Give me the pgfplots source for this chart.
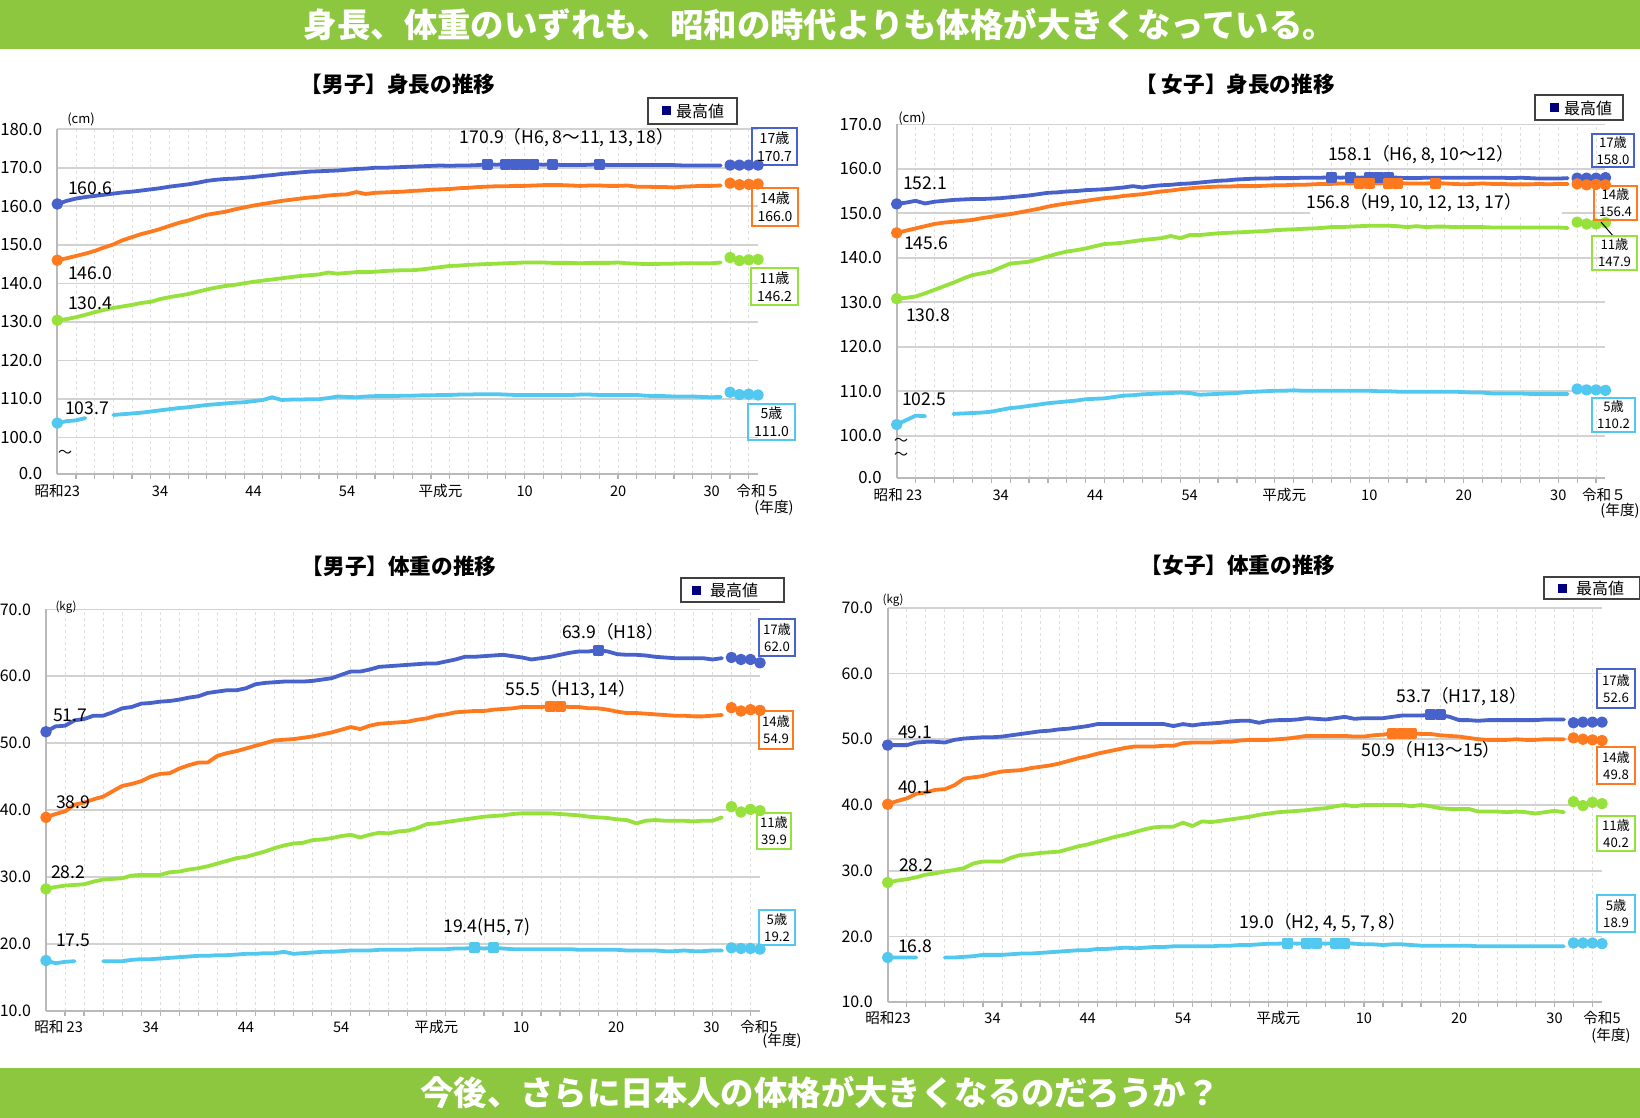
\documentclass[border=0pt]{standalone}
\usepackage{fontspec}
\setmainfont{Noto Sans CJK JP}
\usepackage{pgfplots}
\usepackage{pgfplotstable}
\pgfplotsset{compat=1.18}

\definecolor{c17}{RGB}{72,98,204}
\definecolor{c14}{RGB}{255,122,30}
\definecolor{c11}{RGB}{150,225,60}
\definecolor{c5}{RGB}{80,200,240}
\definecolor{banner}{RGB}{141,198,63}
\definecolor{navy}{RGB}{0,0,128}

\newcommand{\fsz}[1]{\fontsize{#1}{#1}\selectfont}

% male height (cm)
\pgfplotstableread{
yr a17 a14 a11 a5
1948 160.6 146.0 130.4 103.7
1949 161.4 146.5 130.7 104.2
1950 162.0 147.1 131.2 104.4
1951 162.4 147.7 131.8 105.0
1952 162.7 148.4 132.5 nan
1953 163.0 149.3 133.1 nan
1954 163.3 150.1 133.6 105.8
1955 163.6 151.2 134.0 106.0
1956 163.8 152.0 134.4 106.2
1957 164.1 152.8 134.9 106.4
1958 164.4 153.4 135.2 106.7
1959 164.7 154.1 135.9 107.0
1960 165.1 154.9 136.4 107.3
1961 165.4 155.7 136.8 107.6
1962 165.7 156.3 137.2 107.8
1963 166.1 157.1 137.8 108.1
1964 166.6 157.8 138.4 108.4
1965 166.9 158.2 138.9 108.6
1966 167.1 158.6 139.3 108.8
1967 167.2 159.2 139.6 109.0
1968 167.4 159.7 140.0 109.1
1969 167.6 160.2 140.4 109.4
1970 167.9 160.6 140.7 109.7
1971 168.1 161.0 141.0 110.4
1972 168.4 161.4 141.3 109.7
1973 168.6 161.7 141.6 109.8
1974 168.8 162.0 141.9 109.8
1975 169.0 162.3 142.1 109.9
1976 169.1 162.5 142.3 109.9
1977 169.2 162.8 142.8 110.2
1978 169.3 163.0 142.5 110.6
1979 169.5 163.1 142.7 110.5
1980 169.7 163.7 142.9 110.4
1981 169.8 163.2 142.9 110.6
1982 170.0 163.5 143.0 110.7
1983 170.0 163.6 143.2 110.7
1984 170.1 163.7 143.3 110.7
1985 170.2 163.8 143.4 110.8
1986 170.3 164.0 143.4 110.8
1987 170.4 164.1 143.6 110.9
1988 170.5 164.3 143.9 110.9
1989 170.6 164.4 144.2 111.0
1990 170.5 164.5 144.5 111.0
1991 170.6 164.7 144.6 111.1
1992 170.6 164.8 144.8 111.1
1993 170.7 165.0 144.9 111.2
1994 170.9 165.1 145.0 111.2
1995 170.8 165.2 145.1 111.2
1996 170.9 165.2 145.2 111.1
1997 170.9 165.3 145.3 111.0
1998 170.9 165.3 145.4 111.0
1999 170.9 165.4 145.4 111.0
2000 170.8 165.5 145.4 111.0
2001 170.9 165.5 145.3 111.0
2002 170.7 165.5 145.3 111.0
2003 170.7 165.4 145.3 111.0
2004 170.7 165.3 145.2 111.1
2005 170.8 165.4 145.3 111.1
2006 170.9 165.4 145.3 111.0
2007 170.7 165.3 145.3 111.0
2008 170.7 165.3 145.4 111.0
2009 170.7 165.4 145.2 111.0
2010 170.7 165.1 145.1 111.0
2011 170.7 165.1 145.0 110.8
2012 170.7 165.0 145.0 110.7
2013 170.7 165.0 145.1 110.7
2014 170.7 164.9 145.1 110.6
2015 170.6 165.1 145.2 110.6
2016 170.6 165.2 145.2 110.6
2017 170.6 165.3 145.2 110.5
2018 170.6 165.3 145.2 110.4
2019 170.6 165.4 145.4 110.5
}\mheight

% female height (cm)
\pgfplotstableread{
yr a17 a14 a11 a5
1948 152.1 145.6 130.8 102.5
1949 152.4 146.1 131.0 103.5
1950 152.8 146.6 131.3 104.5
1951 152.2 147.1 132.0 104.4
1952 152.6 147.6 132.8 nan
1953 152.8 147.9 133.6 nan
1954 153.0 148.1 134.4 104.9
1955 153.1 148.3 135.3 105.0
1956 153.2 148.5 136.1 105.1
1957 153.2 148.9 136.5 105.2
1958 153.3 149.2 136.9 105.4
1959 153.4 149.5 137.8 105.8
1960 153.6 149.8 138.7 106.2
1961 153.8 150.2 138.9 106.4
1962 154.0 150.6 139.1 106.7
1963 154.3 151.0 139.7 107.0
1964 154.6 151.5 140.3 107.3
1965 154.7 151.9 140.9 107.5
1966 154.9 152.2 141.4 107.7
1967 155.0 152.5 141.7 107.9
1968 155.2 152.8 142.1 108.2
1969 155.3 153.1 142.6 108.3
1970 155.4 153.4 143.1 108.4
1971 155.6 153.6 143.2 108.7
1972 155.8 153.9 143.4 109.0
1973 156.1 154.1 143.7 109.1
1974 155.8 154.3 144.0 109.3
1975 156.1 154.6 144.2 109.4
1976 156.3 154.9 144.4 109.5
1977 156.4 155.1 144.9 109.6
1978 156.6 155.4 144.4 109.7
1979 156.7 155.6 145.1 109.6
1980 156.9 155.8 145.1 109.2
1981 157.1 155.9 145.3 109.3
1982 157.3 156.0 145.5 109.4
1983 157.4 156.0 145.6 109.5
1984 157.6 156.1 145.7 109.6
1985 157.7 156.1 145.8 109.8
1986 157.8 156.1 145.9 109.9
1987 157.8 156.2 146.0 110.0
1988 157.9 156.3 146.2 110.1
1989 157.9 156.3 146.3 110.1
1990 157.9 156.4 146.4 110.2
1991 158.0 156.4 146.5 110.1
1992 158.0 156.5 146.6 110.1
1993 158.0 156.6 146.7 110.1
1994 158.1 156.6 146.9 110.1
1995 158.0 156.7 146.9 110.1
1996 158.1 156.7 147.0 110.1
1997 158.0 156.8 147.1 110.1
1998 158.1 156.8 147.2 110.1
1999 158.1 156.7 147.2 110.0
2000 158.1 156.8 147.2 110.0
2001 158.0 156.8 147.1 109.9
2002 157.9 156.7 146.9 109.9
2003 157.9 156.7 147.1 109.9
2004 158.0 156.7 146.9 109.9
2005 158.0 156.8 147.0 109.9
2006 158.0 156.7 147.0 109.9
2007 158.0 156.6 146.9 109.9
2008 158.0 156.5 146.9 109.8
2009 158.0 156.6 146.9 109.7
2010 158.0 156.7 146.9 109.7
2011 158.0 156.6 146.8 109.5
2012 158.0 156.6 146.8 109.5
2013 157.9 156.5 146.8 109.5
2014 158.0 156.5 146.8 109.5
2015 157.9 156.5 146.8 109.4
2016 157.8 156.6 146.8 109.4
2017 157.8 156.5 146.8 109.4
2018 157.8 156.6 146.8 109.4
2019 157.9 156.6 146.7 109.4
}\fheight

% male weight (kg)
\pgfplotstableread{
yr a17 a14 a11 a5
1948 51.7 38.9 28.2 17.5
1949 52.5 39.4 28.5 17.1
1950 52.6 39.8 28.7 17.3
1951 53.4 40.8 28.8 17.4
1952 53.6 41.1 28.9 nan
1953 54.1 41.6 29.3 nan
1954 54.1 42.0 29.6 17.4
1955 54.6 42.8 29.7 17.4
1956 55.2 43.6 29.8 17.4
1957 55.4 43.9 30.2 17.6
1958 55.9 44.3 30.3 17.7
1959 56.0 45.0 30.3 17.7
1960 56.2 45.4 30.3 17.8
1961 56.3 45.5 30.7 17.9
1962 56.5 46.2 30.8 18.0
1963 56.8 46.7 31.1 18.1
1964 57.0 47.1 31.3 18.2
1965 57.5 47.1 31.6 18.2
1966 57.7 48.1 32.0 18.3
1967 57.9 48.5 32.4 18.3
1968 57.9 48.8 32.8 18.4
1969 58.2 49.2 33.0 18.5
1970 58.8 49.6 33.4 18.5
1971 59.0 50.0 33.8 18.6
1972 59.1 50.4 34.3 18.6
1973 59.2 50.5 34.7 18.8
1974 59.2 50.6 35.0 18.5
1975 59.2 50.8 35.1 18.6
1976 59.3 51.0 35.5 18.7
1977 59.5 51.3 35.6 18.8
1978 59.7 51.6 35.8 18.8
1979 60.2 52.0 36.1 18.9
1980 60.7 52.4 36.3 19.0
1981 60.7 52.1 35.9 19.0
1982 61.0 52.6 36.3 19.0
1983 61.4 52.9 36.6 19.1
1984 61.5 53.0 36.5 19.1
1985 61.6 53.1 36.8 19.1
1986 61.7 53.2 36.9 19.1
1987 61.8 53.5 37.3 19.2
1988 61.9 53.7 37.9 19.2
1989 61.9 54.1 38.0 19.2
1990 62.2 54.3 38.2 19.2
1991 62.5 54.6 38.4 19.3
1992 62.9 54.7 38.6 19.3
1993 62.9 54.8 38.8 19.4
1994 63.0 54.8 39.0 19.3
1995 63.1 55.0 39.1 19.4
1996 63.2 55.1 39.2 19.3
1997 63.0 55.2 39.4 19.2
1998 62.8 55.4 39.5 19.2
1999 62.5 55.4 39.5 19.2
2000 62.7 55.4 39.5 19.2
2001 62.9 55.5 39.5 19.2
2002 63.2 55.5 39.4 19.2
2003 63.5 55.4 39.3 19.2
2004 63.7 55.4 39.2 19.1
2005 63.7 55.2 39.0 19.1
2006 63.9 55.2 38.9 19.1
2007 63.7 55.0 38.8 19.1
2008 63.3 54.7 38.6 19.1
2009 63.2 54.5 38.5 19.0
2010 63.2 54.5 38.0 19.0
2011 63.1 54.4 38.4 19.0
2012 62.9 54.3 38.5 19.0
2013 62.8 54.2 38.4 18.9
2014 62.7 54.1 38.4 18.9
2015 62.7 54.1 38.4 19.0
2016 62.7 54.0 38.3 18.9
2017 62.7 54.0 38.4 18.9
2018 62.5 54.1 38.4 19.0
2019 62.7 54.2 38.9 19.0
}\mweight

% female weight (kg)
\pgfplotstableread{
yr a17 a14 a11 a5
1948 49.1 40.1 28.2 16.8
1949 49.1 40.6 28.5 16.8
1950 49.1 41.0 28.7 16.8
1951 49.5 41.7 29.0 16.8
1952 49.6 41.9 29.4 nan
1953 49.6 42.3 29.6 nan
1954 49.5 42.4 29.9 16.8
1955 49.9 43.0 30.1 16.8
1956 50.1 44.0 30.4 16.9
1957 50.2 44.2 31.1 17.0
1958 50.3 44.4 31.4 17.2
1959 50.3 44.8 31.4 17.2
1960 50.4 45.1 31.4 17.2
1961 50.6 45.2 32.0 17.3
1962 50.8 45.3 32.4 17.4
1963 51.0 45.6 32.5 17.4
1964 51.2 45.8 32.7 17.5
1965 51.3 46.0 32.8 17.6
1966 51.5 46.3 32.9 17.7
1967 51.6 46.7 33.3 17.8
1968 51.8 47.1 33.7 17.9
1969 52.0 47.4 34.0 17.9
1970 52.3 47.8 34.4 18.1
1971 52.3 48.1 34.8 18.1
1972 52.3 48.4 35.2 18.2
1973 52.3 48.7 35.5 18.3
1974 52.3 48.9 35.9 18.2
1975 52.3 48.9 36.3 18.3
1976 52.3 48.9 36.6 18.4
1977 52.3 49.0 36.7 18.4
1978 52.0 49.0 36.7 18.5
1979 52.3 49.4 37.3 18.5
1980 52.1 49.5 36.8 18.5
1981 52.3 49.5 37.5 18.5
1982 52.4 49.5 37.4 18.5
1983 52.5 49.6 37.6 18.6
1984 52.7 49.6 37.8 18.6
1985 52.8 49.8 38.0 18.7
1986 52.8 49.9 38.2 18.7
1987 52.5 49.9 38.5 18.8
1988 52.8 49.9 38.7 18.9
1989 52.9 50.0 38.9 18.9
1990 52.9 50.1 39.0 19.0
1991 53.0 50.3 39.1 18.9
1992 53.2 50.5 39.2 19.0
1993 53.1 50.5 39.4 19.0
1994 53.0 50.5 39.5 18.9
1995 53.2 50.5 39.8 19.0
1996 53.4 50.5 40.0 19.0
1997 53.1 50.4 39.8 18.9
1998 53.2 50.4 40.0 18.8
1999 53.2 50.6 40.0 18.8
2000 53.2 50.7 40.0 18.7
2001 53.4 50.9 40.0 18.8
2002 53.6 50.9 40.0 18.8
2003 53.6 50.9 39.8 18.7
2004 53.6 50.8 40.0 18.6
2005 53.7 50.8 39.8 18.6
2006 53.7 50.6 39.5 18.6
2007 53.4 50.5 39.4 18.6
2008 52.9 50.4 39.4 18.6
2009 52.9 50.2 39.4 18.6
2010 52.8 50.0 39.0 18.5
2011 52.9 49.9 39.0 18.5
2012 52.9 49.9 39.0 18.5
2013 52.9 49.9 38.9 18.5
2014 52.9 50.0 39.0 18.5
2015 52.9 49.9 38.9 18.5
2016 52.9 49.9 38.7 18.5
2017 53.0 50.0 38.9 18.5
2018 53.0 50.0 39.1 18.5
2019 53.0 50.0 38.9 18.5
}\fweight

\pgfplotsset{
  panel/.style={
    scale only axis, anchor=south west,
    xmin=1948, xmax=2023,
    axis x line*=bottom, axis y line*=left,
    axis line style={draw=gray!55, line width=0.8pt},
    xtick={1950,1952,...,2022}, xticklabels={},
    xtick style={draw=gray!60, line width=0.6pt},
    ytick style={draw=none},
    tick align=outside, major tick length=2.5pt,
    xmajorgrids, ymajorgrids,
    x grid style={gray!25, dash pattern=on 1.5pt off 1.5pt, line width=0.4pt},
    y grid style={gray!35, line width=0.8pt},
    yticklabel style={font=\fsz{8.4}, xshift=-1.5pt},
    clip=false, unbounded coords=jump,
    every axis plot/.append style={line width=1.9pt, line join=round, line cap=round},
  },
  wpanel/.style={panel, yticklabel style={font=\fsz{8.0}, xshift=0pt}},
  rec/.style={only marks, mark=square*, mark size=1.8pt},
  dot/.style={only marks, mark=*, mark size=1.9pt},
}

\begin{document}
\begin{tikzpicture}[x=0.5pt,y=0.5pt]
\useasboundingbox (0,0) rectangle (1640,-1118);
\fill[white] (0,0) rectangle (1640,-1118);
\fill[banner] (0,0) rectangle (1640,-49);
\fill[banner] (0,-1068) rectangle (1640,-1118);
\node[white, font=\fsz{16.7}\bfseries] at (820,-24.5) {身長、体重のいずれも、昭和の時代よりも体格が大きくなっている。};
\node[white, font=\fsz{16.7}\bfseries] at (820,-1093) {今後、さらに日本人の体格が大きくなるのだろうか？};

% ---------- panel 1: boys height
\node[font=\fsz{10.8}\bfseries] at (398,-84) {【男子】身長の推移};
\coordinate (A) at (57.3,-473.9);
\begin{axis}[panel, at={(A)}, width=350.4pt, height=172.3pt, ymin=90.5, ymax=180,
  ytick={90.5,100,110,120,130,140,150,160,170,180},
  yticklabels={0.0,100.0,110.0,120.0,130.0,140.0,150.0,160.0,170.0,180.0}]
\addplot[c17] table[x=yr, y=a17] {\mheight};
\addplot[c14] table[x=yr, y=a14] {\mheight};
\addplot[c11] table[x=yr, y=a11] {\mheight};
\addplot[c5] table[x=yr, y=a5] {\mheight};
\addplot[dot, c17] coordinates {(1948,160.6) (2020,170.7) (2021,170.7) (2022,170.7) (2023,170.7)};
\addplot[dot, c14] coordinates {(1948,146.0) (2020,166.0) (2021,165.6) (2022,165.7) (2023,165.8)};
\addplot[dot, c11] coordinates {(1948,130.4) (2020,146.7) (2021,145.9) (2022,146.1) (2023,146.2)};
\addplot[dot, c5] coordinates {(1948,103.7) (2020,111.7) (2021,111.1) (2022,111.2) (2023,111.0)};
\addplot[rec, c17] coordinates {(1994,170.9) (1996,170.9) (1997,170.9) (1998,170.9) (1999,170.9) (2001,170.9) (2006,170.9)};
\end{axis}
\node[font=\fsz{6.5}] at (81,-119) {(cm)};
\node[font=\fsz{7}] at (65,-454) {～};
\foreach \x/\t in {57.3/昭和23,160.1/34,253.6/44,347.1/54,440.5/平成元,524.6/10,618.1/20,711.6/30,758.3/令和５}
  \node[font=\fsz{7.3}] at (\x,-491) {\t};
\node[font=\fsz{7.3}] at (774,-508) {(年度)};
\node[anchor=west, font=\fsz{8.8}] at (61,-188) {160.6};
\node[anchor=west, font=\fsz{8.8}] at (61,-273) {146.0};
\node[anchor=west, font=\fsz{8.8}] at (61,-303) {130.4};
\node[anchor=west, font=\fsz{8.8}] at (58,-408) {103.7};
\node[font=\fsz{8.8}] at (567,-138) {170.9（H6, 8～11, 13, 18）};
\draw[black!75, line width=0.9pt] (648,-98) rectangle (737,-124);
\fill[navy] (662,-106) rectangle (671,-115);
\node[font=\fsz{8}] at (700,-111) {最高値};
\draw[c17, line width=0.6pt] (752,-128) rectangle (797,-165);
\node[align=center, font=\fontsize{7}{9}\selectfont] at (774.5,-146.5) {17歳\\170.7};
\draw[c14, line width=0.6pt] (752,-188) rectangle (798,-226);
\node[align=center, font=\fontsize{7}{9}\selectfont] at (775,-207) {14歳\\166.0};
\draw[c11, line width=0.6pt] (751,-268) rectangle (798,-305);
\node[align=center, font=\fontsize{7}{9}\selectfont] at (774.5,-286.5) {11歳\\146.2};
\draw[c5, line width=0.6pt] (748,-404) rectangle (795,-440);
\node[align=center, font=\fontsize{7}{9}\selectfont] at (771.5,-422) {5歳\\111.0};

% ---------- panel 2: girls height
\node[font=\fsz{10.8}\bfseries] at (1235,-84) {【 女子】身長の推移};
\coordinate (B) at (896.7,-477.7);
\begin{axis}[panel, at={(B)}, width=354.4pt, height=176.7pt, ymin=90.56, ymax=170,
  ytick={90.56,100,110,120,130,140,150,160,170},
  yticklabels={0.0,100.0,110.0,120.0,130.0,140.0,150.0,160.0,170.0}]
\addplot[c17] table[x=yr, y=a17] {\fheight};
\addplot[c14] table[x=yr, y=a14] {\fheight};
\addplot[c11] table[x=yr, y=a11] {\fheight};
\addplot[c5] table[x=yr, y=a5] {\fheight};
\addplot[dot, c17] coordinates {(1948,152.1) (2020,157.9) (2021,157.9) (2022,157.9) (2023,158.0)};
\addplot[dot, c14] coordinates {(1948,145.6) (2020,156.6) (2021,156.4) (2022,156.5) (2023,156.4)};
\addplot[dot, c11] coordinates {(1948,130.8) (2020,148.0) (2021,147.6) (2022,147.6) (2023,147.9)};
\addplot[dot, c5] coordinates {(1948,102.5) (2020,110.5) (2021,110.3) (2022,110.3) (2023,110.2)};
\addplot[rec, c17] coordinates {(1994,158.1) (1996,158.1) (1998,158.1) (1999,158.1) (2000,158.1)};
\addplot[rec, c14] coordinates {(1997,156.8) (1998,156.8) (2000,156.8) (2001,156.8) (2005,156.8)};
\end{axis}
\node[font=\fsz{6.5}] at (912,-118) {(cm)};
\node[font=\fsz{7}] at (901,-442) {～};
\node[font=\fsz{7}] at (901,-456) {～};
\foreach \x/\t in {898/昭和 23,1000.7/34,1095.2/44,1189.7/54,1284.2/平成元,1369.3/10,1463.8/20,1558.3/30,1604/令和５}
  \node[font=\fsz{7.3}] at (\x,-495) {\t};
\node[font=\fsz{7.3}] at (1620,-511) {(年度)};
\node[anchor=west, font=\fsz{8.8}] at (896,-183) {152.1};
\node[anchor=west, font=\fsz{8.8}] at (897,-243) {145.6};
\node[anchor=west, font=\fsz{8.8}] at (899,-315) {130.8};
\node[anchor=west, font=\fsz{8.8}] at (895,-399) {102.5};
\node[font=\fsz{8.8}] at (1421,-155) {158.1（H6, 8, 10～12）};
\fill[white] (1310,-191) rectangle (1562,-216);
\node[font=\fsz{8.8}] at (1414,-203) {156.8（H9, 10, 12, 13, 17）};
\draw[black!75, line width=0.9pt] (1535,-95) rectangle (1623,-120);
\fill[navy] (1550,-103) rectangle (1559,-112);
\node[font=\fsz{8}] at (1588,-108) {最高値};
\draw[c17, line width=0.6pt] (1592,-134) rectangle (1634,-167);
\node[align=center, font=\fontsize{6.6}{8.5}\selectfont] at (1613,-150.5) {17歳\\158.0};
\draw[c14, line width=0.6pt] (1594,-186) rectangle (1637,-220);
\node[align=center, font=\fontsize{6.6}{8.5}\selectfont] at (1615.5,-203) {14歳\\156.4};
\draw[black, line width=0.5pt] (1601,-222) -- (1614,-237);
\draw[c11, line width=0.6pt] (1592,-236) rectangle (1637,-270);
\node[align=center, font=\fontsize{6.6}{8.5}\selectfont] at (1614.5,-253) {11歳\\147.9};
\draw[c5, line width=0.6pt] (1592,-398) rectangle (1635,-432);
\node[align=center, font=\fontsize{6.6}{8.5}\selectfont] at (1613.5,-415) {5歳\\110.2};

% ---------- panel 3: boys weight
\node[font=\fsz{10.8}\bfseries] at (399,-566) {【男子】体重の推移};
\coordinate (C) at (46,-1010.7);
\begin{axis}[wpanel, at={(C)}, width=357pt, height=200.7pt, ymin=10, ymax=70,
  ytick={10,20,30,40,50,60,70},
  yticklabels={10.0,20.0,30.0,40.0,50.0,60.0,70.0}]
\addplot[c17] table[x=yr, y=a17] {\mweight};
\addplot[c14] table[x=yr, y=a14] {\mweight};
\addplot[c11] table[x=yr, y=a11] {\mweight};
\addplot[c5] table[x=yr, y=a5] {\mweight};
\addplot[dot, c17] coordinates {(1948,51.7) (2020,62.8) (2021,62.5) (2022,62.5) (2023,62.0)};
\addplot[dot, c14] coordinates {(1948,38.9) (2020,55.3) (2021,54.8) (2022,55.0) (2023,54.9)};
\addplot[dot, c11] coordinates {(1948,28.2) (2020,40.5) (2021,39.7) (2022,40.1) (2023,39.9)};
\addplot[dot, c5] coordinates {(1948,17.5) (2020,19.4) (2021,19.3) (2022,19.3) (2023,19.2)};
\addplot[rec, c17] coordinates {(2006,63.9)};
\addplot[rec, c14] coordinates {(2001,55.5) (2002,55.5)};
\addplot[rec, c5] coordinates {(1993,19.4) (1995,19.4)};
\end{axis}
\node[font=\fsz{5.8}] at (66,-607) {(kg)};
\foreach \x/\t in {58.6/昭和 23,150.7/34,245.9/44,341.1/54,436.3/平成元,521/10,616.2/20,711.4/30,759/令和5}
  \node[font=\fsz{7.3}] at (\x,-1027) {\t};
\node[font=\fsz{7.3}] at (782,-1041) {(年度)};
\node[anchor=west, font=\fsz{8.8}] at (46,-715) {51.7};
\node[anchor=west, font=\fsz{8.8}] at (49,-802) {38.9};
\node[anchor=west, font=\fsz{8.8}] at (44,-872) {28.2};
\node[anchor=west, font=\fsz{8.8}] at (49,-940) {17.5};
\node[font=\fsz{8.8}] at (613,-632) {63.9（H18）};
\node[font=\fsz{8.8}] at (571,-690) {55.5（H13, 14）};
\node[font=\fsz{8.8}] at (487,-927) {19.4(H5, 7)};
\draw[black!75, line width=0.9pt] (681,-578) rectangle (784,-602);
\fill[navy] (692,-586) rectangle (701,-595);
\node[font=\fsz{8}] at (734,-590) {最高値};
\draw[c17, line width=0.6pt] (759,-619) rectangle (795,-656);
\node[align=center, font=\fontsize{6.6}{8.5}\selectfont] at (777,-637.5) {17歳\\62.0};
\draw[c14, line width=0.6pt] (759,-711) rectangle (793,-749);
\node[align=center, font=\fontsize{6.6}{8.5}\selectfont] at (776,-730) {14歳\\54.9};
\draw[c11, line width=0.6pt] (757,-813) rectangle (791,-849);
\node[align=center, font=\fontsize{6.6}{8.5}\selectfont] at (774,-831) {11歳\\39.9};
\draw[c5, line width=0.6pt] (759,-910) rectangle (795,-945);
\node[align=center, font=\fontsize{6.6}{8.5}\selectfont] at (777,-927.5) {5歳\\19.2};

% ---------- panel 4: girls weight
\node[font=\fsz{10.8}\bfseries] at (1238,-565) {【女子】体重の推移};
\coordinate (D) at (887.7,-1002.2);
\begin{axis}[wpanel, at={(D)}, width=357.15pt, height=197.25pt, ymin=10, ymax=70,
  ytick={10,20,30,40,50,60,70},
  yticklabels={10.0,20.0,30.0,40.0,50.0,60.0,70.0}]
\addplot[c17] table[x=yr, y=a17] {\fweight};
\addplot[c14] table[x=yr, y=a14] {\fweight};
\addplot[c11] table[x=yr, y=a11] {\fweight};
\addplot[c5] table[x=yr, y=a5] {\fweight};
\addplot[dot, c17] coordinates {(1948,49.1) (2020,52.5) (2021,52.6) (2022,52.6) (2023,52.6)};
\addplot[dot, c14] coordinates {(1948,40.1) (2020,50.2) (2021,50.0) (2022,49.9) (2023,49.8)};
\addplot[dot, c11] coordinates {(1948,28.2) (2020,40.5) (2021,39.9) (2022,40.4) (2023,40.2)};
\addplot[dot, c5] coordinates {(1948,16.8) (2020,19.0) (2021,19.0) (2022,19.0) (2023,18.9)};
\addplot[rec, c17] coordinates {(2005,53.7) (2006,53.7)};
\addplot[rec, c14] coordinates {(2001,50.9) (2002,50.9) (2003,50.9)};
\addplot[rec, c5] coordinates {(1990,19.0) (1992,19.0) (1993,19.0) (1995,19.0) (1996,19.0)};
\end{axis}
\node[font=\fsz{5.8}] at (893,-600) {(kg)};
\foreach \x/\t in {888/昭和23,992.5/34,1087.7/44,1183/54,1278.2/平成元,1363.9/10,1459.2/20,1554.5/30,1602/令和5}
  \node[font=\fsz{7.3}] at (\x,-1018) {\t};
\node[font=\fsz{7.3}] at (1611,-1036) {(年度)};
\node[anchor=west, font=\fsz{8.8}] at (891,-732) {49.1};
\node[anchor=west, font=\fsz{8.8}] at (891,-787) {40.1};
\node[anchor=west, font=\fsz{8.8}] at (892,-865) {28.2};
\node[anchor=west, font=\fsz{8.8}] at (891,-946) {16.8};
\node[font=\fsz{8.8}] at (1462,-697) {53.7（H17, 18）};
\node[font=\fsz{8.8}] at (1431,-750) {50.9（H13～15）};
\node[font=\fsz{8.8}] at (1323,-923) {19.0（H2, 4, 5, 7, 8）};
\draw[black!75, line width=0.9pt] (1544,-577) rectangle (1640,-599);
\fill[navy] (1558,-584) rectangle (1567,-593);
\node[font=\fsz{8}] at (1600,-588) {最高値};
\draw[c17, line width=0.6pt] (1597,-669) rectangle (1635,-708);
\node[align=center, font=\fontsize{6.6}{8.5}\selectfont] at (1616,-688.5) {17歳\\52.6};
\draw[c14, line width=0.6pt] (1597,-747) rectangle (1635,-784);
\node[align=center, font=\fontsize{6.6}{8.5}\selectfont] at (1616,-765.5) {14歳\\49.8};
\draw[c11, line width=0.6pt] (1597,-816) rectangle (1635,-851);
\node[align=center, font=\fontsize{6.6}{8.5}\selectfont] at (1616,-833.5) {11歳\\40.2};
\draw[c5, line width=0.6pt] (1597,-895) rectangle (1635,-932);
\node[align=center, font=\fontsize{6.6}{8.5}\selectfont] at (1616,-913.5) {5歳\\18.9};
\end{tikzpicture}
\end{document}
